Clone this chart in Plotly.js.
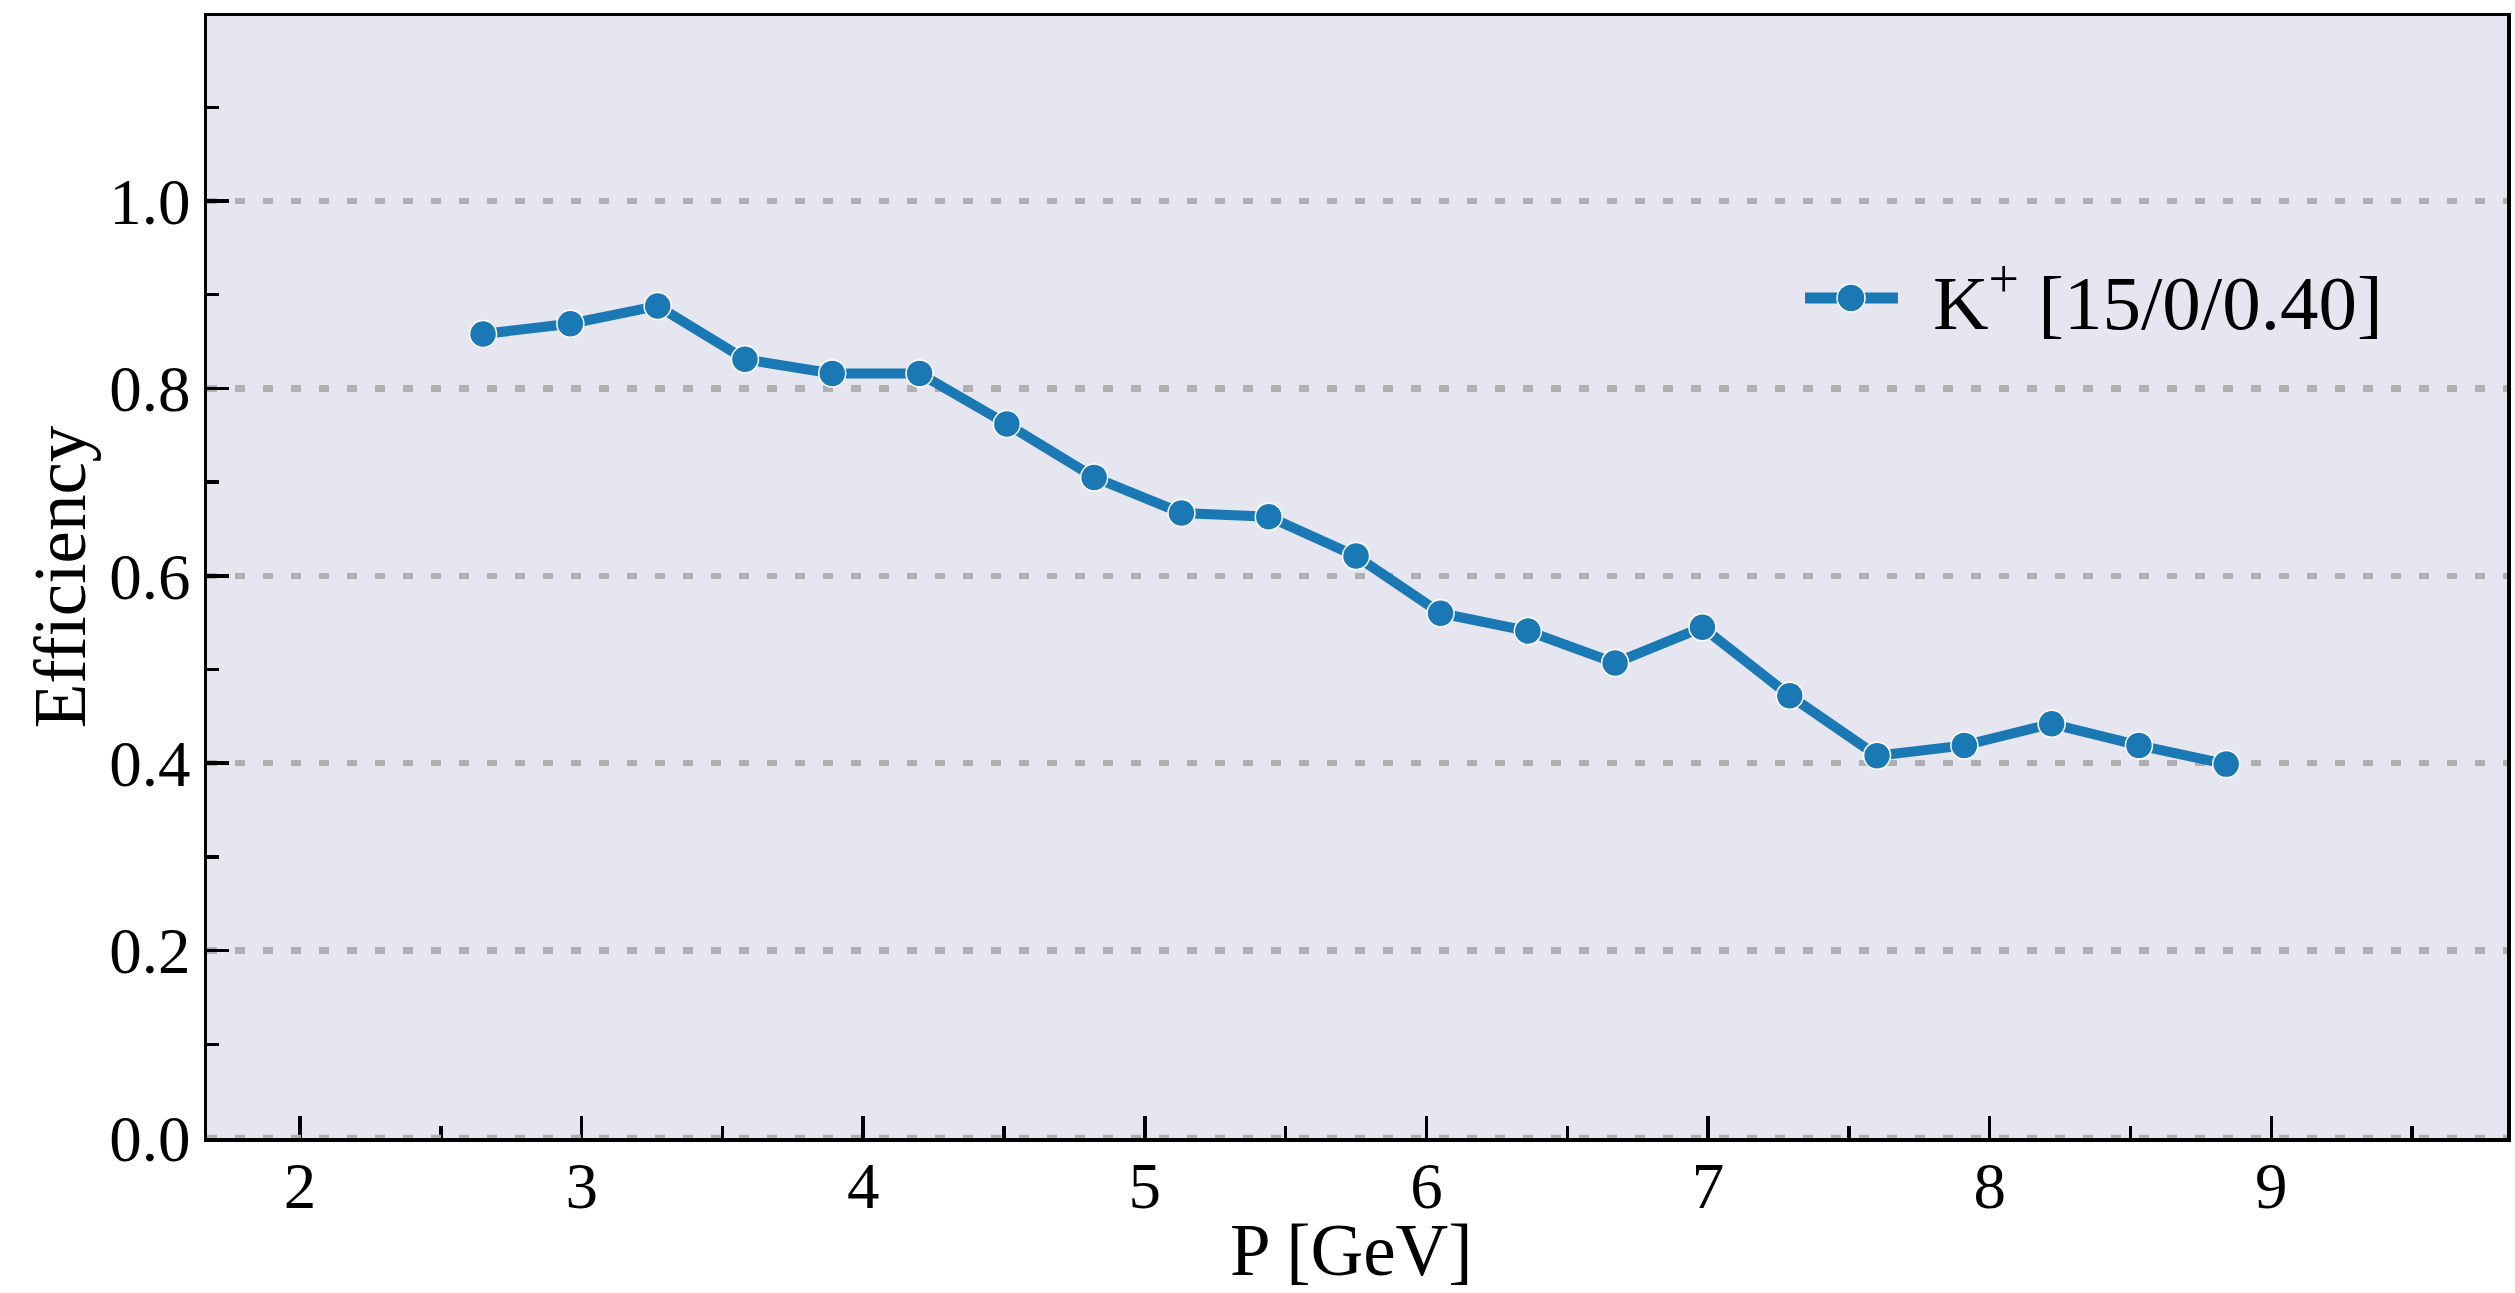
<!DOCTYPE html>
<html>
<head>
<meta charset="utf-8">
<script src="https://cdn.plot.ly/plotly-3.0.1.min.js"></script>
<style>
  html, body { margin: 0; padding: 0; background: #ffffff; }
  #chart { width: 2515px; height: 1293px; }
</style>
</head>
<body>
<div id="chart"></div>
<script>
// Momentum bins (GeV) and kaon identification efficiency per bin
const momentum = [2.65, 2.96, 3.27, 3.58, 3.89, 4.20, 4.51, 4.82, 5.13, 5.44, 5.75,
                  6.05, 6.36, 6.67, 6.98, 7.29, 7.60, 7.91, 8.22, 8.53, 8.84];
const efficiency = [0.858, 0.869, 0.888, 0.831, 0.816, 0.816, 0.762, 0.705, 0.667, 0.663, 0.621,
                    0.560, 0.541, 0.507, 0.545, 0.472, 0.408, 0.419, 0.442, 0.419, 0.399];
const seriesLabel = "K<sup>+</sup> [15/0/0.40]";
const xTitle = "P [GeV]";
const yTitle = "Efficiency";
const xTicks = [2, 3, 4, 5, 6, 7, 8, 9];
const yTicks = [0.0, 0.2, 0.4, 0.6, 0.8, 1.0];
const yTickText = ["0.0", "0.2", "0.4", "0.6", "0.8", "1.0"];

const blue = "#1a78b4";
const serif = "Liberation Serif, Times New Roman, serif";
const gridDash = "10px,18px";

const trace = {
  x: momentum,
  y: efficiency,
  type: "scatter",
  mode: "lines+markers",
  name: seriesLabel,
  showlegend: false,
  line: { color: blue, width: 10 },
  marker: { color: blue, size: 27, line: { color: "#ffffff", width: 1.5 } }
};

// Legend key drawn in paper space so the sample line keeps its full length
const legendY = 0.7487;
const layout = {
  width: 2515,
  height: 1293,
  margin: { l: 207, r: 8, t: 16, b: 155 },
  paper_bgcolor: "#ffffff",
  plot_bgcolor: "#e5e6f0",
  font: { family: serif, color: "#000000", size: 65 },
  xaxis: {
    range: [1.6697, 9.837],
    tickmode: "array",
    tickvals: xTicks,
    ticks: "inside",
    ticklen: 22,
    tickwidth: 3.5,
    tickcolor: "#000000",
    ticklabelstandoff: -12,
    showline: true,
    linewidth: 3.5,
    linecolor: "#000000",
    mirror: true,
    showgrid: false,
    zeroline: false,
    tickfont: { family: serif, size: 65 },
    minor: { dtick: 0.5, tick0: 0, ticks: "inside", ticklen: 12, tickwidth: 3.5, tickcolor: "#000000", showgrid: false }
  },
  yaxis: {
    range: [0, 1.1974],
    tickmode: "array",
    tickvals: yTicks,
    ticktext: yTickText,
    ticks: "inside",
    ticklen: 22,
    tickwidth: 3.5,
    tickcolor: "#000000",
    showline: true,
    linewidth: 3.5,
    linecolor: "#000000",
    mirror: true,
    showgrid: true,
    gridcolor: "#b0b0b0",
    gridwidth: 6.5,
    griddash: gridDash,
    zeroline: false,
    tickfont: { family: serif, size: 65 },
    minor: { dtick: 0.1, tick0: 0, ticks: "inside", ticklen: 12, tickwidth: 3.5, tickcolor: "#000000", showgrid: false },
    title: { text: yTitle, font: { family: serif, size: 73 }, standoff: 0 }
  },
  shapes: [
    // dotted baseline grid drawn over the bottom spine
    { type: "line", xref: "paper", yref: "y", x0: 0, x1: 1, y0: 0, y1: 0, layer: "above",
      line: { color: "#b0b0b0", width: 6.5, dash: gridDash } },
    // legend key: line with centred marker
    { type: "line", xref: "paper", yref: "paper", x0: 0.6948, x1: 0.7352, y0: legendY, y1: legendY,
      layer: "above", line: { color: blue, width: 11 } },
    { type: "circle", xref: "paper", yref: "paper", xsizemode: "pixel", ysizemode: "pixel",
      xanchor: 0.7148, yanchor: legendY, x0: -14, x1: 14, y0: -14, y1: 14,
      layer: "above", fillcolor: blue, line: { color: "#ffffff", width: 1.5 } }
  ],
  annotations: [
    { xref: "paper", yref: "paper", x: 0.7496, y: legendY, xanchor: "left", yanchor: "middle",
      text: seriesLabel, showarrow: false, font: { family: serif, size: 77, color: "#000000" } },
    // x-axis title, resting on the bottom edge of the figure
    { xref: "paper", yref: "paper", x: 0.4978, y: -0.1381, xanchor: "center", yanchor: "bottom",
      text: xTitle, showarrow: false, font: { family: serif, size: 73, color: "#000000" } }
  ]
};

Plotly.newPlot("chart", [trace], layout, { staticPlot: true, displayModeBar: false });
</script>
</body>
</html>
